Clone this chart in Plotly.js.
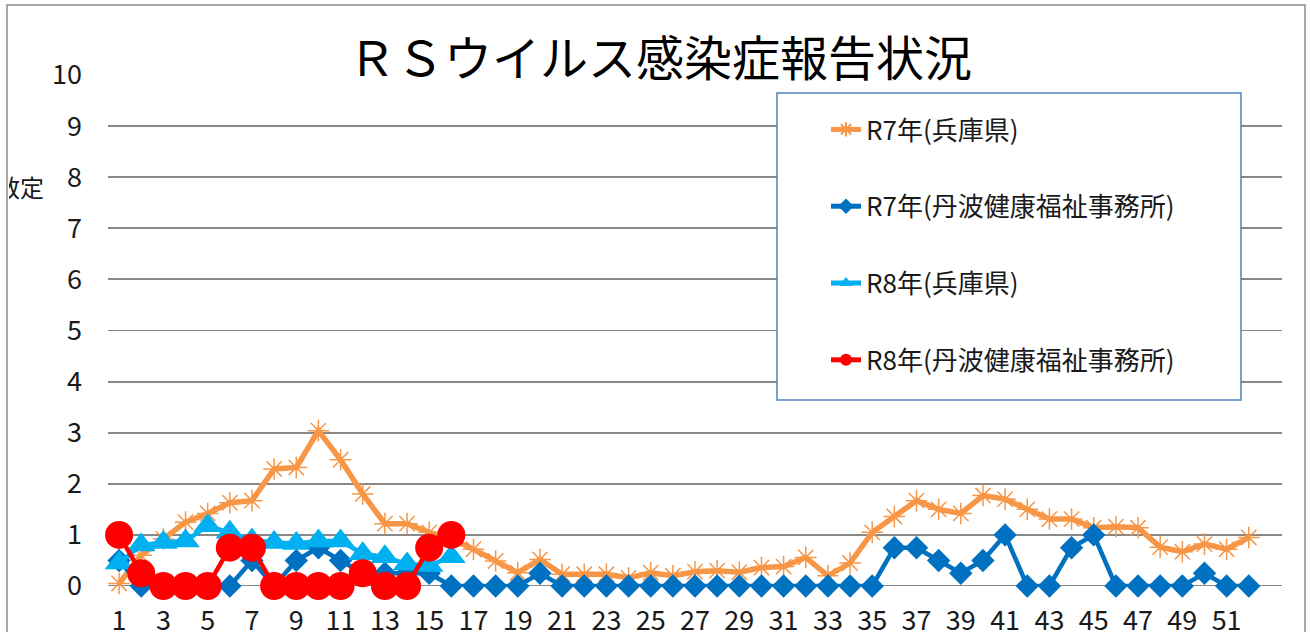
<!DOCTYPE html>
<html>
<head>
<meta charset="utf-8">
<script src="https://cdn.plot.ly/plotly-3.0.1.min.js"></script>
<style>html,body{margin:0;padding:0;background:#fff;}#chart{width:1310px;height:632px;}</style>
</head>
<body>
<div id="chart"></div>
<script>
const weeks = [1,2,3,4,5,6,7,8,9,10,11,12,13,14,15,16,17,18,19,20,21,22,23,24,25,26,27,28,29,30,31,32,33,34,35,36,37,38,39,40,41,42,43,44,45,46,47,48,49,50,51,52];
const xTickVals = [1,3,5,7,9,11,13,15,17,19,21,23,25,27,29,31,33,35,37,39,41,43,45,47,49,51];
const yTickVals = [0,1,2,3,4,5,6,7,8,9,10];
const seriesNames = ["R7年(兵庫県)", "R7年(丹波健康福祉事務所)", "R8年(兵庫県)", "R8年(丹波健康福祉事務所)"];
const r7Hyogo = [0.05,0.6,0.92,1.25,1.42,1.63,1.67,2.29,2.32,3.04,2.47,1.8,1.22,1.22,1.05,0.92,0.72,0.49,0.26,0.52,0.23,0.23,0.23,0.16,0.26,0.2,0.28,0.3,0.27,0.36,0.38,0.56,0.2,0.45,1.05,1.36,1.67,1.5,1.42,1.77,1.7,1.5,1.31,1.31,1.14,1.16,1.14,0.76,0.67,0.82,0.72,0.95];
const r7Tanba = [0.5,0,0,0,0,0,0.5,0,0.5,0.75,0.5,0.25,0.25,0.25,0.25,0,0,0,0,0.25,0,0,0,0,0,0,0,0,0,0,0,0,0,0,0,0.75,0.75,0.5,0.25,0.5,1,0,0,0.75,1,0,0,0,0,0.25,0,0];
const r8Hyogo = [0.45,0.8,0.85,0.88,1.18,1.05,0.9,0.85,0.83,0.88,0.88,0.63,0.57,0.43,0.4,0.57];
const r8Tanba = [1,0.25,0,0,0,0.75,0.75,0,0,0,0,0.25,0,0,0.75,1];

const FONT = '"Noto Sans CJK JP", "Noto Sans", sans-serif';

const traces = [
  {x: weeks.slice(0, r7Hyogo.length), y: r7Hyogo, name: seriesNames[0], legendgroup: 'a', type: 'scatter', mode: 'lines+markers',
   line: {color: '#F79646', width: 5.5}, marker: {symbol: 'asterisk-open', size: 18, color: '#F79646', line: {color: '#F79646', width: 1.5}}, cliponaxis: false},
  {x: weeks.slice(0, r7Tanba.length), y: r7Tanba, name: seriesNames[1], legendgroup: 'b', type: 'scatter', mode: 'lines+markers',
   line: {color: '#0070C0', width: 4.5}, marker: {symbol: 'diamond', size: 18, color: '#0070C0'}, cliponaxis: false},
  {x: weeks.slice(0, r8Hyogo.length), y: r8Hyogo, name: seriesNames[2], legendgroup: 'c', type: 'scatter', mode: 'lines+markers',
   line: {color: '#00B0F0', width: 4.5}, marker: {symbol: 'triangle-up', size: 25, color: '#00B0F0'}, cliponaxis: false},
  {x: weeks.slice(0, r8Tanba.length), y: r8Tanba, name: seriesNames[3], legendgroup: 'd', type: 'scatter', mode: 'lines+markers',
   line: {color: '#FF0000', width: 4.5}, marker: {symbol: 'circle', size: 28, color: '#FF0000'}, cliponaxis: false}
];

const layout = {
  width: 1310, height: 632,
  margin: {l: 108, r: 28, t: 75, b: 46},
  paper_bgcolor: '#ffffff', plot_bgcolor: '#ffffff',
  font: {family: FONT, color: '#1a1a1a', size: 22},
  title: {text: 'ＲＳウイルス感染症報告状況', x: 660/1310, xanchor: 'center', y: 1 - 59/632, yanchor: 'middle',
          font: {family: '"Liberation Serif", "Noto Sans CJK JP", serif', size: 48, color: '#000'}},
  showlegend: true,
  legend: {x: (826-108)/1174, xanchor: 'left', y: (586-106)/511, yanchor: 'top', bgcolor: 'rgba(0,0,0,0)', borderwidth: 0,
           traceorder: 'grouped', tracegroupgap: 40, font: {family: FONT, size: 26, color: '#1a1a1a'}, itemsizing: 'constant'},
  xaxis: {range: [0.5, 53.5], tickmode: 'array', tickvals: xTickVals, ticktext: xTickVals.map(String),
          showgrid: false, zeroline: false, showline: false, ticks: '', ticklabelstandoff: 16,
          tickfont: {family: FONT, size: 27, color: '#1a1a1a'}, fixedrange: true},
  yaxis: {range: [0, 10], tickmode: 'array', tickvals: yTickVals, showgrid: true, gridcolor: '#888888', gridwidth: 1.8,
          zeroline: false, showline: false, ticks: '', ticklabelstandoff: 25,
          tickfont: {family: FONT, size: 27, color: '#1a1a1a'}, fixedrange: true},
  shapes: [
    {type: 'line', xref: 'paper', yref: 'y', x0: 0, x1: 1, y0: 0, y1: 0, line: {color: '#888888', width: 1.8}, layer: 'below'},
    {type: 'rect', xref: 'paper', yref: 'paper', x0: (7-108)/1174, x1: (1305-108)/1174, y0: -0.3, y1: (586-5)/511,
     line: {color: '#8c8c8c', width: 1.5}, fillcolor: 'rgba(0,0,0,0)', layer: 'below'},
    {type: 'rect', xref: 'paper', yref: 'paper', x0: (777-108)/1174, x1: (1241-108)/1174, y0: (586-400)/511, y1: (586-93)/511,
     line: {color: '#4F81BD', width: 1.5}, fillcolor: '#ffffff', layer: 'above'}
  ],
  annotations: [
    {text: '数定', xref: 'paper', yref: 'paper', x: (7-108)/1174, y: (586-186)/511, xanchor: 'left', yanchor: 'middle',
     width: 35, align: 'right', showarrow: false, font: {family: FONT, size: 24, color: '#1a1a1a'}}
  ]
};

Plotly.newPlot('chart', traces, layout, {displayModeBar: false, staticPlot: true});
</script>
</body>
</html>
